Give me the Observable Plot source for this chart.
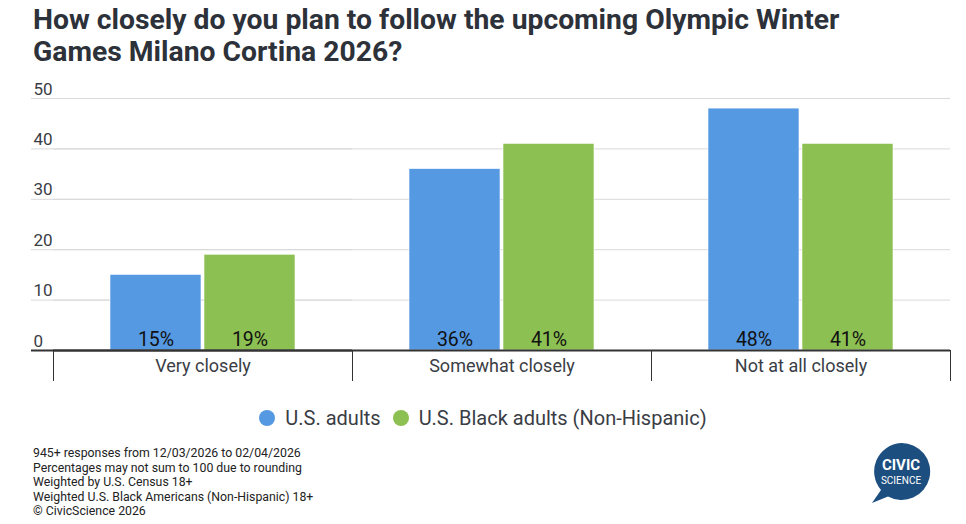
<!DOCTYPE html>
<html>
<head>
<meta charset="utf-8">
<script src="https://cdn.jsdelivr.net/npm/d3@7"></script>
<script src="https://cdn.jsdelivr.net/npm/@observablehq/plot@0.6"></script>
<style>
  html, body { margin: 0; padding: 0; background: #fff; font-family: Roboto, "Noto Sans", sans-serif; }
  #wrap { position: relative; width: 966px; height: 524px; overflow: hidden; }
  #title { position: absolute; left: 33px; top: 4px; font-size: 28.3px; font-weight: 700; line-height: 32px; color: #2d3139; }
  #chart { position: absolute; left: 0; top: 75px; }
  #legend { position: absolute; left: 0; width: 966px; top: 406px; text-align: center; font-size: 20px; color: #3a3d45; }
  #legend span.item { display: inline-flex; align-items: center; margin: 0 6px; }
  #legend span.dot { display: inline-block; width: 16px; height: 16px; border-radius: 50%; margin-right: 10px; }
  #footer { position: absolute; left: 33px; top: 446px; font-size: 12.3px; line-height: 14.6px; color: #222; }
  #logo { position: absolute; left: 866px; top: 440px; }
</style>
</head>
<body>
<div id="wrap">
  <div id="title">How closely do you plan to follow the upcoming Olympic Winter<br>Games Milano Cortina 2026?</div>
  <div id="chart"></div>
  <div id="legend"></div>
  <div id="footer"></div>
  <svg id="logo" width="70" height="70" viewBox="0 0 70 70">
    <path d="M35 3 A28.5 28.5 0 1 1 22 56.5 L6 63 L15 50 A28.5 28.5 0 0 1 35 3 Z" fill="#1d4e80"/>
    <text x="35" y="30" text-anchor="middle" fill="#fff" font-family="Roboto, sans-serif" font-size="15" font-weight="700">CIVIC</text>
    <text x="35" y="44" text-anchor="middle" fill="#fff" font-family="Roboto, sans-serif" font-size="10">SCIENCE</text>
  </svg>
</div>
<script>
const categories = ["Very closely", "Somewhat closely", "Not at all closely"];
const seriesNames = ["U.S. adults", "U.S. Black adults (Non-Hispanic)"];
const usAdults = [15, 36, 48];
const blackAdults = [19, 41, 41];
const seriesColors = ["#5599e3", "#8dc052"];
const yTicks = [0, 10, 20, 30, 40, 50];
const footerLines = [
  "945+ responses from 12/03/2026 to 02/04/2026",
  "Percentages may not sum to 100 due to rounding",
  "Weighted by U.S. Census 18+",
  "Weighted U.S. Black Americans (Non-Hispanic) 18+",
  "\u00a9 CivicScience 2026"
];

const data = [];
categories.forEach((c, i) => {
  data.push({category: c, series: seriesNames[0], value: usAdults[i]});
  data.push({category: c, series: seriesNames[1], value: blackAdults[i]});
});

const gridTicks = yTicks.filter(d => d > 0);

const chart = Plot.plot({
  width: 966,
  height: 315,
  marginTop: 23,
  marginBottom: 40,
  marginLeft: 31,
  marginRight: 16,
  style: {fontFamily: "Roboto, sans-serif", background: "transparent"},
  fx: {domain: categories, paddingInner: 0, paddingOuter: 0.036, align: 1, label: null},
  x: {domain: seriesNames, paddingInner: 0.03, paddingOuter: 0.6, axis: null},
  y: {domain: [0, 50], axis: null},
  color: {domain: seriesNames, range: seriesColors},
  marks: [
    Plot.ruleY(gridTicks, {y: d => d, stroke: "#d9d9d9", strokeWidth: 1}),
    Plot.ruleY(gridTicks, {y: d => d, stroke: "#d9d9d9", strokeWidth: 1, facetAnchor: "left", insetLeft: -22}),
    Plot.axisY(yTicks, {anchor: "left", tickSize: 0, tickPadding: 0, textAnchor: "start", dx: -20, dy: -4, lineAnchor: "bottom", fontSize: 17, fill: "#3a3d45", label: null}),
    Plot.barY(data, {fx: "category", x: "series", y: "value", fill: "series", stroke: "#ffffff", strokeWidth: 0.6}),
    Plot.text(data, {fx: "category", x: "series", y: 0, text: d => d.value + "%", dy: -5, lineAnchor: "bottom", fontSize: 19.5, fill: "#111"}),
    Plot.frame({anchor: "left", insetTop: 252, insetBottom: -30, stroke: "#333"}),
    Plot.frame({anchor: "right", insetTop: 252, insetBottom: -30, stroke: "#333"}),
    Plot.ruleY([0], {stroke: "#333", strokeWidth: 2}),
    Plot.ruleY([0], {stroke: "#333", strokeWidth: 2, facetAnchor: "left", insetLeft: -22}),
    Plot.axisFx({anchor: "bottom", tickSize: 0, tickPadding: 9, lineAnchor: "top", fontSize: 18, fill: "#3a3d45", label: null})
  ]
});
document.getElementById("chart").appendChild(chart);

const legend = document.getElementById("legend");
seriesNames.forEach((s, i) => {
  const item = document.createElement("span");
  item.className = "item";
  const dot = document.createElement("span");
  dot.className = "dot";
  dot.style.background = seriesColors[i];
  item.appendChild(dot);
  item.appendChild(document.createTextNode(s));
  legend.appendChild(item);
});

document.getElementById("footer").innerHTML = footerLines.join("<br>");
</script>
</body>
</html>
